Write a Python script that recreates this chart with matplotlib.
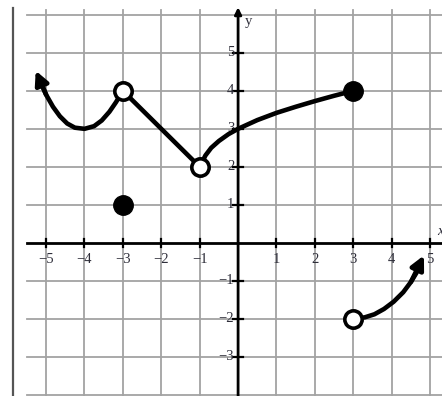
import matplotlib.pyplot as plt
from matplotlib.lines import Line2D

# Значения
x_ticks = [-5, -4, -3, -2, -1, 1, 2, 3, 4, 5]
y_ticks = [-3, -2, -1, 1, 2, 3, 4, 5]
grid_x = list(range(-5, 6))
grid_y = list(range(-4, 7))

# левая кривая: от стрелки до выколотой точки (-3, 4)
left_x = [-5.27, -5.13, -5.0, -4.82, -4.64, -4.45, -4.25, -4.0, -3.75, -3.55, -3.35, -3.18, -3.0]
left_y = [4.53, 4.2, 3.9, 3.58, 3.33, 3.14, 3.03, 3.0, 3.07, 3.22, 3.45, 3.7, 4.0]

# отрезок (-3, 4) -> (-1, 2)
mid_x = [-3, -1]
mid_y = [4, 2]

# кривая от (-1, 2) до (3, 4)
right_x = [-1.0, -0.85, -0.7, -0.5, -0.25, 0.0, 0.5, 1.0, 1.5, 2.0, 2.5, 3.0]
right_y = [2.0, 2.3, 2.5, 2.68, 2.86, 3.0, 3.23, 3.42, 3.58, 3.73, 3.87, 4.0]

# нижняя правая кривая: от (3, -2) к стрелке
low_x = [3.0, 3.3, 3.55, 3.8, 4.05, 4.3, 4.5, 4.65, 4.84]
low_y = [-2.0, -1.96, -1.88, -1.74, -1.55, -1.3, -1.03, -0.78, -0.33]

open_x = [-3, -1, 3]
open_y = [4, 2, -2]
closed_x = [-3, 3]
closed_y = [1, 4]

X_MIN, X_MAX = -6.2, 5.31
Y_MIN, Y_MAX = -4.03, 6.39

fig = plt.figure(figsize=(4.42, 3.96), dpi=100)
ax = fig.add_axes([0, 0, 1, 1])
ax.set_xlim(X_MIN, X_MAX)
ax.set_ylim(Y_MIN, Y_MAX)
ax.axis('off')

grid_color = '#a3a3a3'
for gx in grid_x:
    if gx != 0:
        ax.plot([gx, gx], [Y_MIN, 6.12], color=grid_color, lw=1.3, zorder=1)
for gy in grid_y:
    if gy != 0:
        ax.plot([-5.5, X_MAX], [gy, gy], color=grid_color, lw=1.3, zorder=1)

# рамка слева
fig.add_artist(Line2D([12.5 / 442, 12.5 / 442], [0, 1 - 8 / 396],
                      transform=fig.transFigure, color='#555555', lw=1.6))

# оси
ax.plot([-5.5, X_MAX], [0, 0], color='black', lw=2, zorder=2)
ax.annotate('', xy=(0, 6.2), xytext=(0, Y_MIN),
            arrowprops=dict(arrowstyle='-|>', color='black', lw=2,
                            mutation_scale=10, shrinkA=0, shrinkB=0), zorder=2)

font = dict(family='Liberation Serif', fontsize=10.5, color='#2e2e3a')
for t in x_ticks:
    ax.plot([t, t], [-0.1, 0.1], color='black', lw=1.6, zorder=2)
    ax.text(t, -0.45, str(t).replace('-', '\u2212'), ha='center', va='center', **font)
for t in y_ticks:
    ax.plot([-0.12, 0.12], [t, t], color='black', lw=1.6, zorder=2)
    ax.text(-0.1, t, str(t).replace('-', '\u2212'), ha='right', va='center', **font)

ax.text(5.26, 0.3, 'x', ha='center', va='center', style='italic', **font)
ax.text(0.28, 5.82, 'y', ha='center', va='center', **font)

# кривые
lw = 3.3
ax.plot(left_x[1:], left_y[1:], color='black', lw=lw, solid_capstyle='round', zorder=3)
ax.annotate('', xy=(left_x[0], left_y[0]), xytext=(left_x[2], left_y[2]),
            arrowprops=dict(arrowstyle='-|>', color='black', lw=lw,
                            mutation_scale=20, shrinkA=0, shrinkB=0), zorder=3)
ax.plot(mid_x, mid_y, color='black', lw=lw, zorder=3)
ax.plot(right_x, right_y, color='black', lw=lw, solid_capstyle='round', zorder=3)
ax.plot(low_x[:-1], low_y[:-1], color='black', lw=lw, solid_capstyle='round', zorder=3)
ax.annotate('', xy=(low_x[-1], low_y[-1]), xytext=(low_x[-3], low_y[-3]),
            arrowprops=dict(arrowstyle='-|>', color='black', lw=lw,
                            mutation_scale=20, shrinkA=0, shrinkB=0), zorder=3)

# точки
ax.plot(open_x, open_y, 'o', ms=12.5, mfc='white', mec='black', mew=2.6, zorder=4)
ax.plot(closed_x, closed_y, 'o', ms=14, color='black', zorder=4)

fig.savefig('out.png', dpi=100)
